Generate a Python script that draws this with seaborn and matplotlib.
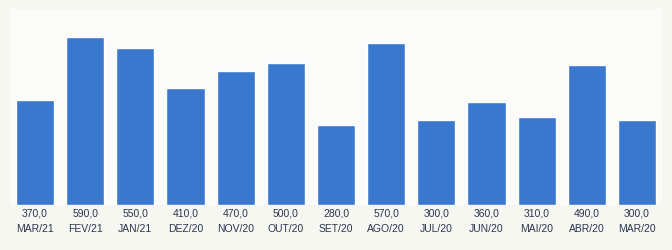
import matplotlib
matplotlib.use("Agg")
import matplotlib.pyplot as plt
import seaborn as sns
import pandas as pd

months = ["MAR/21", "FEV/21", "JAN/21", "DEZ/20", "NOV/20", "OUT/20", "SET/20",
          "AGO/20", "JUL/20", "JUN/20", "MAI/20", "ABR/20", "MAR/20"]
values = [370, 590, 550, 410, 470, 500, 280, 570, 300, 360, 310, 490, 300]

df = pd.DataFrame({"mes": months, "valor": values})

sns.set_theme(style="white")
plt.rcParams['font.family'] = ['Liberation Sans', 'DejaVu Sans']

W, H = 672, 251
fig = plt.figure(figsize=(W / 100, H / 100), dpi=100)
fig.patch.set_facecolor("#f7f7f2")
ax = fig.add_axes([10 / W, 45 / H, 652 / W, 196 / H])
ax.set_facecolor("#fbfbf9")

sns.barplot(data=df, x="mes", y="valor", color="#3a78cf", saturation=1,
            width=0.76, ax=ax)

ax.set_ylim(0, 590 * 196 / 168)
ax.set_xlim(-0.5, len(months) - 0.5)
ax.set_yticks([])
ax.set_xlabel("")
ax.set_ylabel("")
ax.set_xticks(range(len(months)))
ax.set_xticklabels([f"{v:.1f}".replace(".", ",") + "\n" + m for v, m in zip(values, months)],
                   fontsize=7.5, color="#2a3550", linespacing=1.6)
ax.tick_params(axis="x", length=0, pad=2)
for s in ax.spines.values():
    s.set_visible(False)

fig.savefig("out.png", dpi=100, facecolor=fig.get_facecolor())
